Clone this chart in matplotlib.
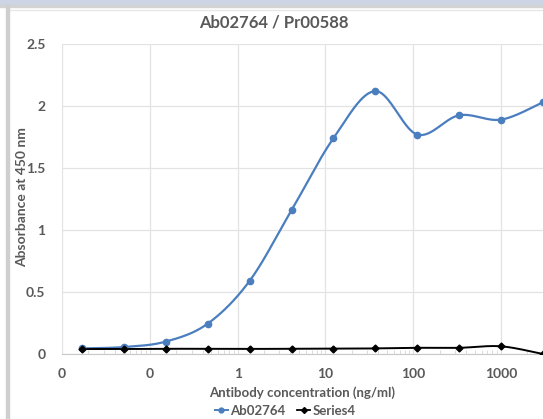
import numpy as np
import matplotlib
matplotlib.use("Agg")
import matplotlib.pyplot as plt
from matplotlib.patches import Rectangle
from matplotlib.lines import Line2D
from matplotlib.ticker import FixedLocator, NullFormatter

plt.rcParams['font.family'] = ['Lato', 'DejaVu Sans']

# ---- data ----
conc = [0.0169, 0.0508, 0.152, 0.457, 1.372, 4.115, 12.35, 37.04, 111.1, 333.3, 1000, 3000]
ab02764 = [0.045, 0.056, 0.10, 0.245, 0.59, 1.16, 1.74, 2.12, 1.77, 1.925, 1.89, 2.03]
series4 = [0.04, 0.04, 0.042, 0.042, 0.041, 0.042, 0.043, 0.045, 0.05, 0.05, 0.062, 0.0]
xtick_vals = [0.01, 0.1, 1, 10, 100, 1000]
xtick_labels = ["0", "0", "1", "10", "100", "1000"]
ytick_vals = [0, 0.5, 1, 1.5, 2, 2.5]
ytick_labels = ["0", "0.5", "1", "1.5", "2", "2.5"]
title = "Ab02764 / Pr00588"
xlabel = "Antibody concentration (ng/ml)"
ylabel = "Absorbance at 450 nm"

def catmull(xs, ys, n=40):
    lx = np.log10(np.asarray(xs, float))
    y = np.asarray(ys, float)
    P = np.column_stack([lx, y])
    P = np.vstack([P[0], P, P[-1]])
    out = []
    for i in range(1, len(P) - 2):
        p0, p1, p2, p3 = P[i-1], P[i], P[i+1], P[i+2]
        c1 = p1 + (p2 - p0) / 6
        c2 = p2 - (p3 - p1) / 6
        t = np.linspace(0, 1, n)[:, None]
        b = (1-t)**3*p1 + 3*(1-t)**2*t*c1 + 3*(1-t)*t**2*c2 + t**3*p2
        out.append(b if i == 1 else b[1:])
    out = np.vstack(out)
    return 10**out[:, 0], out[:, 1]

W, H = 543, 419
fig = plt.figure(figsize=(W/100, H/100), dpi=100)
fig.patch.set_facecolor('white')

ax_left, ax_bottom, ax_top = 62, 354, 44
decade = 87.8
ax = fig.add_axes([ax_left/W, (H-ax_bottom)/H, 6*decade/W, (ax_bottom-ax_top)/H])
ax.set_xscale('log')
ax.set_xlim(0.01, 10000)
ax.set_ylim(0, 2.5)

blue = '#4a7ebf'
sx, sy = catmull(conc, ab02764)
ax.plot(sx, sy, color=blue, lw=1.6, zorder=3)
ax.plot(conc, ab02764, 'o', color=blue, ms=4.5, zorder=4)
bx, by = catmull(conc, series4)
ax.plot(bx, by, color='black', lw=1.4, zorder=3)
ax.plot(conc, series4, 'D', color='black', ms=3.5, zorder=4)

ax.xaxis.set_major_locator(FixedLocator(xtick_vals))
ax.set_xticklabels(xtick_labels)
minors = [m*10.0**e for e in range(-2, 4) for m in range(2, 10)]
ax.xaxis.set_minor_locator(FixedLocator(minors))
ax.xaxis.set_minor_formatter(NullFormatter())
ax.set_yticks(ytick_vals)
ax.set_yticklabels(ytick_labels)

ax.grid(True, which='major', color='#e3e3e3', lw=0.9)
ax.set_axisbelow(True)
for s in ['top', 'right', 'left']:
    ax.spines[s].set_visible(False)
ax.spines['bottom'].set_color('#c8c8c8')
ax.tick_params(axis='x', which='major', length=0, pad=10, labelsize=10, labelcolor='#595959')
ax.tick_params(axis='x', which='minor', direction='in', length=3, color='#dadada', width=0.7)
ax.tick_params(axis='y', length=0, pad=12, labelsize=10, labelcolor='#595959')
for lab in ax.get_xticklabels() + ax.get_yticklabels():
    lab.set_fontweight('bold')

fig.text(274/W, 1-22/H, title, ha='center', va='center', fontsize=12, fontweight='bold', color='#595959')
fig.text(302/W, 1-393/H, xlabel, ha='center', va='center', fontsize=9.5, fontweight='bold', color='#595959')
fig.text(22/W, 1-197/H, ylabel, ha='center', va='center', rotation=90, fontsize=10, fontweight='bold', color='#595959')

handles = [Line2D([], [], color=blue, marker='o', ms=3.5, lw=1.4),
           Line2D([], [], color='black', marker='D', ms=3, lw=1.3)]
leg = fig.legend(handles, ['Ab02764', 'Series4'], loc='center', bbox_to_anchor=(285/W, 1-411/H),
                 ncol=2, frameon=False, handlelength=1.0, handletextpad=0.15, columnspacing=0.9,
                 prop={'size': 9.5, 'weight': 'bold'})
for t in leg.get_texts():
    t.set_color('#595959')

# window decorations
fig.patches.append(Rectangle((0, 1-5/H), 1, 5/H, transform=fig.transFigure, color='#cdd4e3', zorder=10))
fig.patches.append(Rectangle((0, 1-7/H), 1, 2/H, transform=fig.transFigure, color='#d3d3d3', zorder=10))
fig.patches.append(Rectangle((6/W, 0), 3/W, 1-5/H, transform=fig.transFigure, color='#cfcfcf', zorder=10))
fig.lines.append(Line2D([9/W, 1], [1-10.5/H, 1-10.5/H], transform=fig.transFigure, color='#e6e6e6', lw=1))

fig.savefig('out.png', dpi=100)
